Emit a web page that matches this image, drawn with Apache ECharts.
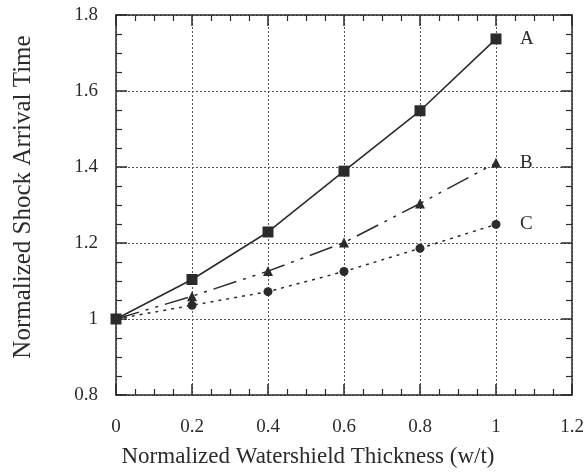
<!DOCTYPE html>
<html>
<head>
<meta charset="utf-8">
<script src="https://cdn.jsdelivr.net/npm/echarts@6/dist/echarts.min.js"></script>
<style>
  html, body { margin: 0; padding: 0; background: #fff; }
  #chart { width: 588px; height: 473px; }
</style>
</head>
<body>
<div id="chart"></div>
<script>
// data
const thickness = [0, 0.2, 0.4, 0.6, 0.8, 1.0];
const seriesA = [1.0, 1.104, 1.229, 1.389, 1.548, 1.737];
const seriesB = [1.0, 1.060, 1.126, 1.201, 1.304, 1.411];
const seriesC = [1.0, 1.036, 1.072, 1.125, 1.186, 1.249];
const seriesNames = ["A", "B", "C"];

const font = "Liberation Serif";
const ink = "#2b2b2b";

const pairs = ys => thickness.map((x, i) => [x, ys[i]]);

const chart = echarts.init(document.getElementById("chart"));

// shared look of the four framing axes
const frame = {
  axisLine: { show: true, onZero: false, lineStyle: { color: ink, width: 1.5 } },
  axisTick: { show: true, inside: true, length: 11, lineStyle: { color: ink, width: 1.5 } },
  minorTick: { show: true, splitNumber: 4, length: 6, lineStyle: { color: ink, width: 1.2 } },
  axisLabel: { show: false },
  splitLine: { show: false }
};

const gridLine = { show: true, lineStyle: { color: "#555", type: [2, 2], width: 1 } };

chart.setOption({
  animation: false,
  textStyle: { fontFamily: font },
  grid: { left: 116, top: 15, width: 456, height: 381 },
  xAxis: [
    Object.assign({}, frame, {
      type: "value", min: 0, max: 1.2, interval: 0.2,
      axisLabel: { show: true, color: ink, fontSize: 19, fontFamily: font, margin: 23 },
      splitLine: gridLine,
      name: "Normalized Watershield Thickness (w/t)",
      nameLocation: "middle",
      nameGap: 50,
      nameTextStyle: { color: ink, fontSize: 23, fontFamily: font, padding: [0, 72, 0, 0] }
    }),
    Object.assign({}, frame, {
      type: "value", position: "top", min: 0, max: 1.2, interval: 0.2
    })
  ],
  yAxis: [
    Object.assign({}, frame, {
      type: "value", min: 0.8, max: 1.8, interval: 0.2,
      axisLabel: { show: true, color: ink, fontSize: 19, fontFamily: font, margin: 18 },
      splitLine: gridLine,
      name: "Normalized Shock Arrival Time",
      nameLocation: "middle",
      nameGap: 80,
      nameTextStyle: { color: ink, fontSize: 25, fontFamily: font, padding: [0, 0, 0, 16] }
    }),
    Object.assign({}, frame, {
      type: "value", position: "right", min: 0.8, max: 1.8, interval: 0.2
    })
  ],
  series: [
    {
      name: seriesNames[0], type: "line", data: pairs(seriesA),
      symbol: "rect", symbolSize: 11,
      itemStyle: { color: ink },
      lineStyle: { color: ink, width: 1.6, type: "solid" },
      endLabel: { show: true, formatter: "{a}", distance: 24, color: ink, fontSize: 19, fontFamily: font }
    },
    {
      name: seriesNames[1], type: "line", data: pairs(seriesB),
      symbol: "triangle", symbolSize: 10,
      itemStyle: { color: ink },
      lineStyle: { color: ink, width: 1.5, type: [24, 7, 3, 7, 3, 7] },
      endLabel: { show: true, formatter: "{a}", distance: 24, color: ink, fontSize: 19, fontFamily: font }
    },
    {
      name: seriesNames[2], type: "line", data: pairs(seriesC),
      symbol: "circle", symbolSize: 9,
      itemStyle: { color: ink },
      lineStyle: { color: ink, width: 1.5, type: [3, 5] },
      endLabel: { show: true, formatter: "{a}", distance: 24, color: ink, fontSize: 19, fontFamily: font }
    }
  ]
});
</script>
</body>
</html>
